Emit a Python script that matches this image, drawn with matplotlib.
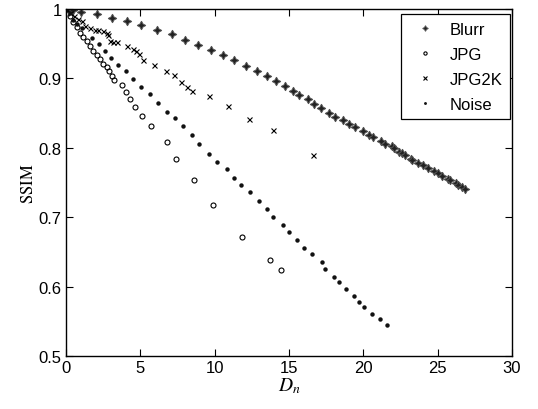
import matplotlib
matplotlib.use("Agg")
import matplotlib.pyplot as plt
from matplotlib.ticker import FuncFormatter

# ---- data ----
blurr_x = [0.0, 0.2, 0.5, 0.99, 2.06, 3.07, 4.08, 5.04, 6.10, 7.11, 8.00, 8.86, 9.75,
           10.54, 11.32, 12.08, 12.87, 13.50, 14.12, 14.71, 15.29, 15.69, 16.29,
           16.68, 17.17, 17.67, 18.09, 18.65, 19.01, 19.46, 19.99, 20.40, 20.67,
           21.16, 21.45, 21.90, 22.06, 22.39, 22.58, 22.80, 23.20, 23.29, 23.65,
           23.99, 24.36, 24.77, 25.04, 25.31, 25.71, 25.82, 26.23, 26.38, 26.61, 26.83]
blurr_y = [1.0, 0.999, 0.998, 0.995, 0.993, 0.987, 0.982, 0.977, 0.970, 0.964, 0.955,
           0.948, 0.941, 0.933, 0.926, 0.918, 0.910, 0.903, 0.896, 0.889, 0.882,
           0.876, 0.870, 0.863, 0.858, 0.850, 0.845, 0.840, 0.835, 0.830, 0.824,
           0.819, 0.816, 0.810, 0.806, 0.802, 0.799, 0.794, 0.792, 0.789, 0.784,
           0.782, 0.778, 0.775, 0.771, 0.766, 0.764, 0.760, 0.755, 0.753, 0.750,
           0.747, 0.743, 0.740]

jpg_x = [0.0, 0.27, 0.49, 0.72, 0.94, 1.16, 1.39, 1.61, 1.84, 2.06, 2.29, 2.51, 2.74,
         2.91, 3.07, 3.25, 3.80, 4.01, 4.30, 4.62, 5.12, 5.72, 6.77, 7.40, 8.64,
         9.87, 11.86, 13.72, 14.44]
jpg_y = [1.0, 0.990, 0.981, 0.974, 0.966, 0.959, 0.954, 0.947, 0.940, 0.933, 0.928,
         0.921, 0.916, 0.911, 0.904, 0.898, 0.891, 0.881, 0.871, 0.859, 0.846,
         0.831, 0.808, 0.784, 0.754, 0.718, 0.672, 0.638, 0.624]

jpg2k_x = [0.0, 0.27, 0.54, 0.81, 1.08, 1.28, 1.61, 1.95, 2.17, 2.51, 2.74, 2.84,
           2.96, 3.18, 3.45, 4.08, 4.49, 4.71, 4.93, 5.20, 5.92, 6.72, 7.28, 7.71,
           8.12, 8.49, 9.62, 10.91, 12.33, 13.94, 16.59]
jpg2k_y = [1.0, 0.994, 0.990, 0.986, 0.983, 0.976, 0.972, 0.970, 0.970, 0.968,
           0.966, 0.963, 0.954, 0.953, 0.952, 0.947, 0.943, 0.939, 0.935, 0.926,
           0.920, 0.911, 0.905, 0.895, 0.888, 0.882, 0.874, 0.860, 0.842, 0.826,
           0.789]

noise_x = [0.0, 0.27, 0.49, 0.74, 1.06, 1.73, 2.24, 2.62, 3.03, 3.52, 4.01, 4.53,
           5.04, 5.65, 6.17, 6.77, 7.33, 7.89, 8.45, 8.96, 9.62, 10.19, 10.81,
           11.30, 11.80, 12.35, 12.97, 13.50, 13.95, 14.57, 15.00, 15.51, 15.99,
           16.54, 17.23, 17.42, 18.02, 18.34, 18.83, 19.39, 19.70, 20.04, 20.56,
           21.15, 21.59]
noise_y = [1.0, 0.994, 0.984, 0.978, 0.972, 0.958, 0.949, 0.939, 0.929, 0.919,
           0.910, 0.899, 0.887, 0.877, 0.865, 0.851, 0.843, 0.831, 0.818, 0.805,
           0.791, 0.780, 0.769, 0.756, 0.746, 0.736, 0.723, 0.712, 0.701, 0.689,
           0.679, 0.667, 0.656, 0.647, 0.635, 0.625, 0.614, 0.606, 0.597, 0.586,
           0.578, 0.570, 0.560, 0.553, 0.545]

x_ticks = [0, 5, 10, 15, 20, 25, 30]
y_ticks = [0.5, 0.6, 0.7, 0.8, 0.9, 1.0]

plt.rcParams['font.family'] = ['Liberation Sans', 'DejaVu Sans']
plt.rcParams['mathtext.fontset'] = 'stix'

fig = plt.figure(figsize=(5.38, 4.10), dpi=100)
ax = fig.add_axes([66/538, 1 - 357/410, (512-66)/538, (357-10)/410])

ax.plot(blurr_x, blurr_y, linestyle='none', marker=(4, 1, 0), markersize=6.2,
        color='#222222', markeredgecolor='#555555', markeredgewidth=0.7, label='Blurr')
ax.plot(jpg_x, jpg_y, linestyle='none', marker='o', markersize=3.6,
        markerfacecolor='none', markeredgecolor='black', markeredgewidth=0.8, label='JPG')
ax.plot(jpg2k_x, jpg2k_y, linestyle='none', marker='x', markersize=3.6,
        color='black', markeredgewidth=0.8, label='JPG2K')
ax.plot(noise_x, noise_y, linestyle='none', marker='o', markersize=3.2,
        color='#111111', markeredgewidth=0, label='Noise')

ax.set_xlim(0, 30)
ax.set_ylim(0.5, 1.0)
ax.set_xticks(x_ticks)
ax.set_yticks(y_ticks)
ax.yaxis.set_major_formatter(FuncFormatter(lambda v, p: ('%g' % v)))
ax.tick_params(direction='in', top=True, right=True, length=5, width=0.8,
               labelsize=12, pad=3)
for s in ax.spines.values():
    s.set_linewidth(1.0)

ax.set_xlabel(r'$D_n$', fontsize=14, labelpad=0)
ax.set_ylabel(r'$\mathrm{SSIM}$', fontsize=12, labelpad=2)

leg = ax.legend(loc='upper right', bbox_to_anchor=(1.0, 0.99), fontsize=12,
                frameon=True, fancybox=False, framealpha=1, edgecolor='black',
                borderpad=0.45, handletextpad=0.5, labelspacing=0.6,
                handlelength=2.0, borderaxespad=0.1, markerscale=0.65)
leg.get_frame().set_linewidth(0.9)

fig.savefig('out.png', dpi=100)
